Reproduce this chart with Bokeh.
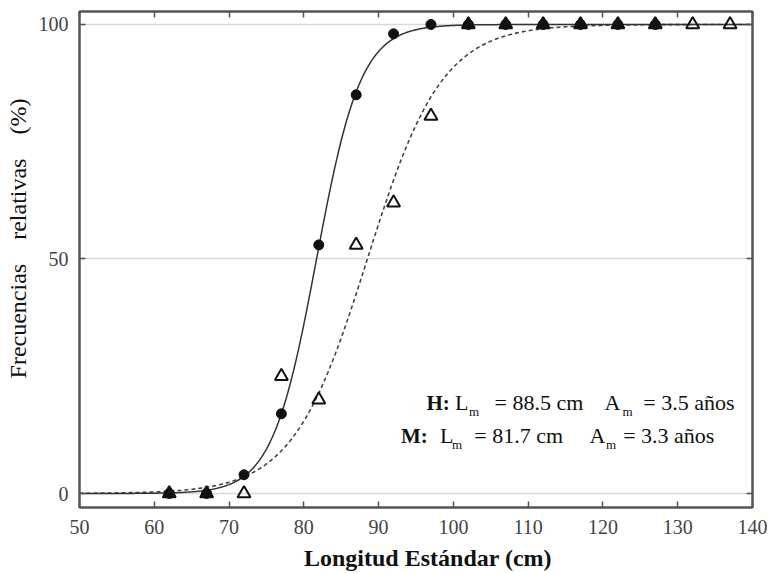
import numpy as np
from bokeh.plotting import figure
from bokeh.models import Range1d, LinearAxis, FixedTicker, Label, CustomLabelingPolicy
from bokeh.embed import file_html
from bokeh.resources import INLINE

# Observed relative frequencies of mature individuals (%) by standard length (cm)
len_m = [62, 67, 72, 77, 82, 87, 92, 97, 102, 107, 112, 117, 122, 127]
freq_m = [0, 0, 4, 17, 53, 85, 98, 100, 100, 100, 100, 100, 100, 100]

len_h = [62, 67, 72, 77, 82, 87, 92, 97, 102, 107, 112, 117, 122, 127, 132, 137]
freq_h = [0, 0, 0, 25, 20, 53, 62, 80.5, 100, 100, 100, 100, 100, 100, 100, 100]

# Logistic maturity ogives: length at 50 % maturity (cm) and slope
lm_h, slope_h = 88.5, 0.20
lm_m, slope_m = 81.7, 0.337

x_ticks = [50, 60, 70, 80, 90, 100, 110, 120, 130, 140]
y_ticks = [0, 50, 100]

SERIF = "Liberation Serif"
FRAME = "#555555"
INK = "#111111"
NB = "\u00a0"

p = figure(width=773, height=573,
           x_range=Range1d(50, 140), y_range=Range1d(-2.985, 102.77),
           output_backend="svg", toolbar_location=None,
           min_border_left=79, min_border_right=16,
           min_border_top=11, min_border_bottom=66)

p.background_fill_color = "white"
p.border_fill_color = "white"
p.outline_line_color = FRAME
p.outline_line_width = 2


def style_axis(ax):
    ax.minor_tick_line_color = None
    ax.major_tick_in = 6
    ax.major_tick_out = 0
    ax.major_tick_line_color = FRAME
    ax.major_tick_line_width = 1.5
    ax.axis_line_color = FRAME
    ax.axis_line_width = 2


# bottom / left axes with numbers and titles
for ax, ticks in ((p.xaxis[0], x_ticks), (p.yaxis[0], y_ticks)):
    ax.ticker = FixedTicker(ticks=ticks)
    style_axis(ax)
    ax.major_label_text_font = SERIF
    ax.major_label_text_font_size = "20px"
    ax.major_label_text_color = "#444444"
    ax.axis_label_text_font = SERIF
    ax.axis_label_text_color = INK

xa, ya = p.xaxis[0], p.yaxis[0]
xa.major_label_standoff = 12
ya.major_label_standoff = 11

# leading no-break spaces nudge the titles off the frame centre
xa.axis_label = NB * 4 + "Longitud Estándar (cm)"
xa.axis_label_text_font_style = "bold"
xa.axis_label_text_font_size = "24px"
xa.axis_label_standoff = 8

ya.axis_label = NB * 7 + "Frecuencias" + NB * 3 + " relativas" + NB * 3 + " (%)"
ya.axis_label_text_font_style = "normal"
ya.axis_label_text_font_size = "24px"
ya.axis_label_standoff = 5

# top / right axes carry only inward ticks, no numbers
for ax, ticks, side in ((LinearAxis(), x_ticks, "above"), (LinearAxis(), y_ticks, "right")):
    ax.ticker = FixedTicker(ticks=ticks)
    style_axis(ax)
    ax.major_label_policy = CustomLabelingPolicy(code="return []")
    ax.major_label_standoff = 0
    p.add_layout(ax, side)

p.xgrid.visible = False
p.ygrid.ticker = FixedTicker(ticks=y_ticks)
p.ygrid.grid_line_color = "#d8d8d8"
p.ygrid.grid_line_width = 1.5

# fitted ogives
xs = np.linspace(50, 140, 451)
p.line(xs, 100 / (1 + np.exp(-slope_h * (xs - lm_h))),
       line_color="#444444", line_width=1.6, line_dash="4 3")
p.line(xs, 100 / (1 + np.exp(-slope_m * (xs - lm_m))),
       line_color="#333333", line_width=1.5)

# observed points: circles (M), triangles (H); triangles that sit on a circle are drawn solid
p.scatter(len_m, freq_m, marker="circle", size=10,
          fill_color=INK, line_color=INK)
m_lookup = dict(zip(len_m, freq_m))
tri_alpha = [1.0 if m_lookup.get(x) == y else 0.0 for x, y in zip(len_h, freq_h)]
p.scatter(len_h, freq_h, marker="triangle", size=13,
          fill_color=INK, fill_alpha=tri_alpha,
          line_color=INK, line_width=2)


# maturity summary text
def put(x, y, text, size="22px", bold=False, dy=0):
    p.add_layout(Label(x=x, y=y, y_offset=dy, text=text,
                       text_font=SERIF, text_font_size=size,
                       text_font_style="bold" if bold else "normal",
                       text_color=INK,
                       text_align="left", text_baseline="alphabetic"))


y_h, y_m = 19.4, 12.36
put(96.4, y_h, "H:", size="21px", bold=True)
put(100.2, y_h, "L")
put(102.1, y_h, "m", size="13px", dy=-9)
put(105.5, y_h, "= 88.5 cm")
put(120.2, y_h, "A")
put(122.6, y_h, "m", size="13px", dy=-9)
put(125.4, y_h, "= 3.5 años")

put(93.0, y_m, "M:", size="21px", bold=True)
put(98.2, y_m, "L")
put(99.8, y_m, "m", size="13px", dy=-9)
put(102.8, y_m, "= 81.7 cm")
put(118.2, y_m, "A")
put(120.4, y_m, "m", size="13px", dy=-9)
put(122.7, y_m, "= 3.3 años")

open("out.html", "w").write(file_html(p, INLINE))
